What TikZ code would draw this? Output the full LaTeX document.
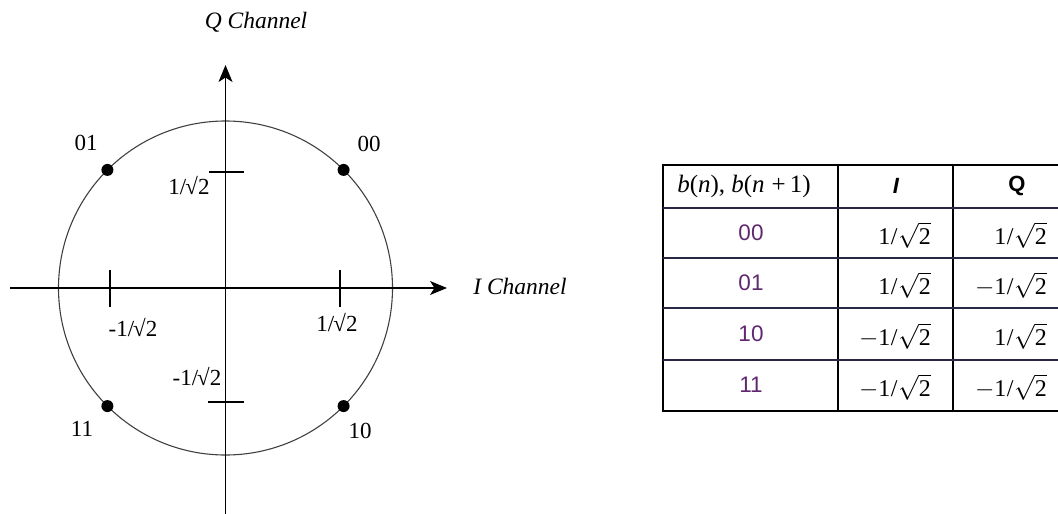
\documentclass[tikz,border=0pt]{standalone}
\usepackage{fontspec}
\setmainfont{Liberation Serif}
\newfontfamily\sansf{Liberation Sans}
\usetikzlibrary{arrows.meta,calc}
\definecolor{bitpurple}{RGB}{96,40,112}
\definecolor{rowline}{RGB}{40,40,70}
\newcommand{\rtwo}{1\kern0.5pt/\kern0.5pt\ensuremath{\sqrt{\mbox{2}}}}
\newcommand{\mrtwo}{\ensuremath{-}\rtwo}
\newcommand{\srt}{1/\kern-1pt√2}
\tikzset{
  axis/.style={line width=1.4pt,-{Stealth[length=17pt,width=14pt,inset=4.5pt]}},
  tick/.style={line width=1.3pt},
  ring/.style={line width=1.1pt,draw=black!75},
  pt/.style={circle,fill=black,inner sep=0pt,minimum size=12pt},
  lbl/.style={font=\fontsize{23}{27}\selectfont,inner sep=0pt},
  chan/.style={font=\fontsize{23.5}{27}\selectfont\itshape,inner sep=0pt},
  grid/.style={line width=1.6pt,draw=black},
  rsep/.style={line width=2pt,draw=rowline},
  bits/.style={font=\sansf\fontsize{22.5}{26}\selectfont,text=bitpurple,inner sep=0pt},
  val/.style={font=\fontsize{24}{28}\selectfont,anchor=east,inner sep=0pt},
  hdr/.style={font=\fontsize{22}{26}\selectfont,inner sep=0pt}
}
\begin{document}
\begin{tikzpicture}[x=1pt,y=-1pt]
\useasboundingbox (0,0) rectangle (1058,514);
\clip (0,0) rectangle (1058,514);
% ---------- constellation ----------
\coordinate (O) at (225.5,288);
\coordinate (xl) at (10,288);
\coordinate (xr) at (447,288);
\coordinate (yb) at (225.5,514);
\coordinate (yt) at (225.5,65);
\draw[ring] (O) circle[radius=167];
\draw[axis] (xl) -- (xr);
\draw[axis] (yb) -- (yt);
% ticks
\coordinate (tl1) at (110,270); \coordinate (tl2) at (110,307);
\coordinate (tr1) at (340,270); \coordinate (tr2) at (340,307);
\coordinate (tt1) at (209,172); \coordinate (tt2) at (244,172);
\coordinate (tb1) at (208,402); \coordinate (tb2) at (244,402);
\draw[tick] (tl1) -- (tl2);
\draw[tick] (tr1) -- (tr2);
\draw[tick] (tt1) -- (tt2);
\draw[tick] (tb1) -- (tb2);
% points
\node[pt] (p00) at ($(O)+(45:167)$) {};
\node[pt] (p01) at ($(O)+(135:167)$) {};
\node[pt] (p11) at ($(O)+(225:167)$) {};
\node[pt] (p10) at ($(O)+(315:167)$) {};
% labels
\node[chan] (qch) at (256,22) {Q Channel};
\node[chan] (ich) at (520,286) {I Channel};
\node[lbl] (l01) at (86,143) {01};
\node[lbl] (l00) at (369,144) {00};
\node[lbl] (l11) at (82,429) {11};
\node[lbl] (l10) at (360,431) {10};
\node[lbl] (vt) at (189,186) {\srt};
\node[lbl] (vb) at (197,377) {-\srt};
\node[lbl] (hl) at (133,328) {-\srt};
\node[lbl] (hr) at (337,323) {\srt};
% ---------- table ----------
\coordinate (c0) at (663,165);
\coordinate (c3) at (1081,411);
\draw[grid] (c0) rectangle (c3);
\coordinate (v1t) at (838,165); \coordinate (v1b) at (838,411);
\coordinate (v2t) at (953,165); \coordinate (v2b) at (953,411);
\draw[grid] (v1t) -- (v1b);
\draw[grid] (v2t) -- (v2b);
\coordinate (r1l) at (663,208); \coordinate (r1r) at (1081,208);
\coordinate (r2l) at (663,258); \coordinate (r2r) at (1081,258);
\coordinate (r3l) at (663,308); \coordinate (r3r) at (1081,308);
\coordinate (r4l) at (663,360); \coordinate (r4r) at (1081,360);
\draw[rsep] (r1l) -- (r1r);
\draw[rsep] (r2l) -- (r2r);
\draw[rsep] (r3l) -- (r3r);
\draw[rsep] (r4l) -- (r4r);
% header
\node[hdr,font=\fontsize{25}{29}\selectfont] (h1) at (744,186) {\itshape b\upshape(\itshape n\upshape), \itshape b\upshape(\itshape n\upshape\;+\,1)};
\node[hdr] (h2) at (896,186) {\sansf\bfseries\itshape I};
\node[hdr] (h3) at (1017,186) {\sansf\bfseries Q};
% rows
\node[bits] (b00) at (751,233) {00};
\node[bits] (b01) at (751,283) {01};
\node[bits] (b10) at (751,334) {10};
\node[bits] (b11) at (751,385) {11};
\node[val] (i00) at (931,235) {\rtwo};
\node[val] (i01) at (931,285) {\rtwo};
\node[val] (i10) at (931,336) {\mrtwo};
\node[val] (i11) at (931,387) {\mrtwo};
\node[val] (q00) at (1047,235) {\rtwo};
\node[val] (q01) at (1047,285) {\mrtwo};
\node[val] (q10) at (1047,336) {\rtwo};
\node[val] (q11) at (1047,387) {\mrtwo};
\end{tikzpicture}
\end{document}
